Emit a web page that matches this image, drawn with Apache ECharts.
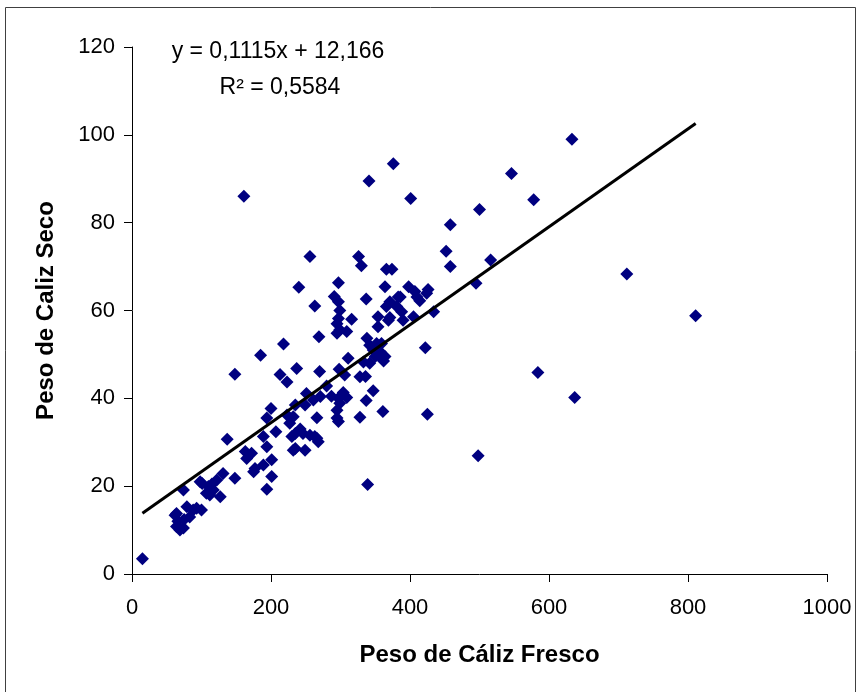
<!DOCTYPE html>
<html>
<head>
<meta charset="utf-8">
<script src="https://cdn.jsdelivr.net/npm/echarts@6/dist/echarts.min.js"></script>
<style>
  html, body { margin: 0; padding: 0; background: #fff; }
  #chart { width: 862px; height: 692px; }
</style>
</head>
<body>
<div id="chart"></div>
<script>
// peso de cáliz fresco (x) y seco (y)
var fresco = [
  15, 62, 64, 69, 74, 66, 64, 79, 88, 93, 100, 83, 75, 74, 98, 110, 122, 112, 127, 131,
  107, 117, 101, 115, 137, 148, 148, 163, 165, 172, 175, 177, 189, 189, 194, 194, 201, 201, 200, 207,
  232, 235, 249, 213, 223, 237, 185, 218, 161, 227, 230, 235, 242, 246, 232, 223, 194, 249, 235, 251,
  256, 263, 266, 268, 261, 266, 271, 287, 280, 270, 295, 297, 295, 299, 297, 304, 309, 298, 306, 311,
  328, 336, 347, 337, 361, 328, 339, 333, 342, 350, 357, 364, 342, 338, 352, 354, 359, 354, 362, 347,
  240, 256, 263, 269, 291, 297, 299, 297, 299, 309, 295, 295, 316, 297, 326, 330, 337, 366, 374, 364,
  366, 371, 383, 381, 386, 354, 369, 371, 388, 390, 405, 398, 407, 410, 414, 424, 426, 434, 422, 341,
  376, 401, 500, 458, 452, 458, 516, 495, 546, 578, 633, 712, 811, 584, 637, 498, 425
];
var seco = [
  3.5, 13.4, 10.8, 10, 10.5, 12, 13.8, 15.3, 14.6, 15, 14.6, 13, 12.4, 19.1, 21, 19.9, 21.4, 18, 17.6, 22.9,
  18.4, 19.1, 20.6, 20.5, 30.7, 21.8, 45.5, 27.9, 26.3, 27.5, 23.3, 24, 24.8, 31.3, 29, 19.3, 22.2, 26, 37.7, 32.4,
  28.2, 28.6, 28.2, 45.4, 43.7, 46.8, 49.8, 52.4, 86, 34.3, 31.3, 32, 33, 32, 35.8, 36.2, 35.5, 38.5, 38.5, 41.1,
  31.6, 31.3, 30.9, 30.1, 39.6, 35.6, 40.4, 40.5, 42.8, 46.1, 37.3, 34.7, 35.5, 38.9, 40, 41.3, 40.2, 46.6, 45.3, 49.1,
  44.9, 45, 41.7, 39.5, 37, 35.7, 20.4, 48.3, 48, 49.5, 50.6, 49.5, 52.1, 53.7, 52.5, 56.3, 52.5, 49.9, 48.5, 51,
  65.3, 72.3, 61, 54, 63.2, 62, 60, 58.2, 55.6, 55.2, 54.8, 57, 58, 66.3, 72.3, 70.2, 62.6, 69.4, 69.4, 65.4,
  60.9, 62, 63.1, 60.9, 63.1, 58.6, 57.8, 58.4, 59.7, 57.8, 58.6, 65.4, 64.3, 63.1, 62.2, 63.9, 64.8, 59.7, 51.5, 89.5,
  93.4, 85.5, 83, 79.5, 73.5, 70, 71.5, 66.2, 91.2, 85.2, 99, 68.3, 58.8, 45.9, 40.2, 26.9, 36.4
];

// regresión lineal mostrada en el gráfico
var pendiente = 0.1115;
var intercepto = 12.166;
var xTicks = [0, 200, 400, 600, 800, 1000];
var yTicks = [0, 20, 40, 60, 80, 100, 120];

var puntos = fresco.map(function (x, i) { return [x, seco[i]]; });
var xMin = Math.min.apply(null, fresco);
var xMax = Math.max.apply(null, fresco);
var tendencia = [
  [xMin, pendiente * xMin + intercepto],
  [xMax, pendiente * xMax + intercepto]
];

var fuente = 'Liberation Sans, Arial, sans-serif';

var chart = echarts.init(document.getElementById('chart'));
var option = {
  animation: false,
  backgroundColor: '#fff',
  grid: { left: 132, right: 35, top: 47, bottom: 118 },
  graphic: [
    {
      type: 'rect',
      shape: { x: 5.5, y: 7.5, width: 850, height: 700 },
      style: { fill: 'none', stroke: '#404040', lineWidth: 1 },
      silent: true
    },
    {
      type: 'text',
      x: 278, y: 52,
      style: {
        text: 'y = 0,1115x + 12,166',
        font: '23px ' + fuente,
        fill: '#000',
        align: 'center',
        verticalAlign: 'middle'
      }
    },
    {
      type: 'text',
      x: 280, y: 88,
      style: {
        text: 'R² = 0,5584',
        font: '23px ' + fuente,
        fill: '#000',
        align: 'center',
        verticalAlign: 'middle'
      }
    }
  ],
  xAxis: {
    type: 'value',
    min: xTicks[0],
    max: xTicks[xTicks.length - 1],
    interval: xTicks[1] - xTicks[0],
    name: 'Peso de Cáliz Fresco',
    nameLocation: 'middle',
    nameGap: 69,
    nameTextStyle: { fontFamily: fuente, fontSize: 24, fontWeight: 'bold', color: '#000' },
    axisLine: { show: true, lineStyle: { color: '#000', width: 1 } },
    axisTick: { show: true, length: 8, lineStyle: { color: '#000' } },
    axisLabel: {
      fontFamily: fuente, fontSize: 22, color: '#000', margin: 23,
      formatter: function (v) { return String(v); }
    },
    splitLine: { show: false }
  },
  yAxis: {
    type: 'value',
    min: yTicks[0],
    max: yTicks[yTicks.length - 1],
    interval: yTicks[1] - yTicks[0],
    name: 'Peso de Caliz Seco',
    nameLocation: 'middle',
    nameGap: 74,
    nameTextStyle: { fontFamily: fuente, fontSize: 24, fontWeight: 'bold', color: '#000' },
    axisLine: { show: true, lineStyle: { color: '#000', width: 1 } },
    axisTick: { show: true, length: 8, lineStyle: { color: '#000' } },
    axisLabel: {
      fontFamily: fuente, fontSize: 22, color: '#000', margin: 17,
      formatter: function (v) { return String(v); }
    },
    splitLine: { show: false }
  },
  series: [
    {
      type: 'scatter',
      data: puntos,
      symbol: 'diamond',
      symbolSize: 13,
      itemStyle: { color: '#000080', opacity: 1 },
      z: 2
    },
    {
      type: 'line',
      data: tendencia,
      symbol: 'none',
      lineStyle: { color: '#000', width: 3 },
      z: 3
    }
  ]
};
chart.setOption(option);
</script>
</body>
</html>
